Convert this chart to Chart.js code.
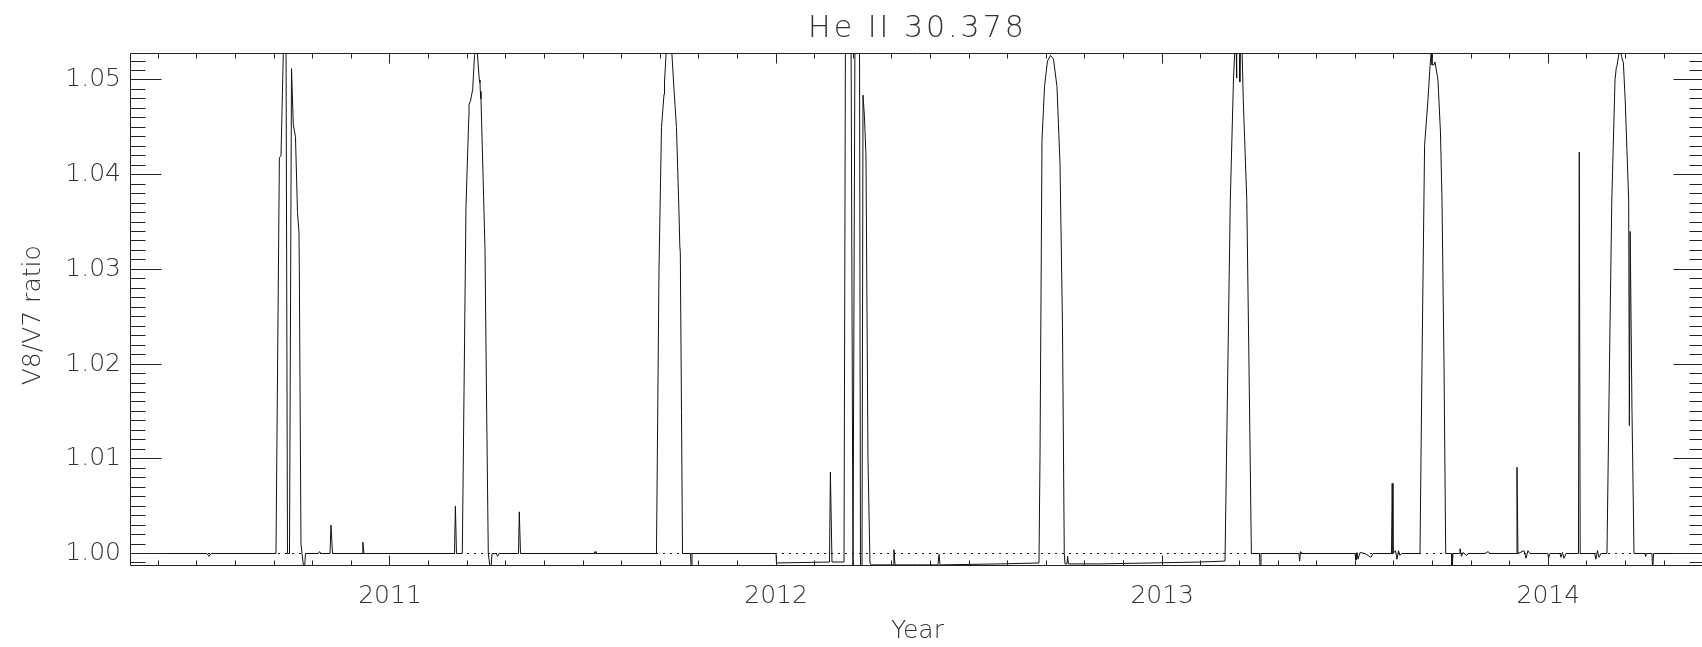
<!DOCTYPE html>
<html>
<head>
<meta charset="utf-8">
<script src="https://cdn.jsdelivr.net/npm/chart.js@4.4.1/dist/chart.umd.min.js"></script>
<style>
    html, body { margin: 0; padding: 0; overflow: hidden; background: #ffffff; }
    #wrap { width: 1706px; height: 647px; }
</style>
</head>
<body>
<div id="wrap"><canvas id="ratio-chart" width="1706" height="647"></canvas></div>
<script>
// V8/V7 ratio, He II 30.378 (decimal years)
const years = [
    2010.3292, 2010.5260, 2010.5312, 2010.5364, 2010.7047, 2010.7135, 2010.7177, 2010.7255,
    2010.7306, 2010.7345, 2010.7397, 2010.7449, 2010.7495, 2010.7552, 2010.7604, 2010.7643,
    2010.7651, 2010.7695, 2010.7721, 2010.7780, 2010.7811, 2010.8148, 2010.8177, 2010.8213,
    2010.8446, 2010.8472, 2010.8511, 2010.9275, 2010.9296, 2010.9327, 2011.1671, 2011.1694,
    2011.1722, 2011.1873, 2011.1968, 2011.2041, 2011.2046, 2011.2085, 2011.2142, 2011.2189,
    2011.2227, 2011.2261, 2011.2313, 2011.2331, 2011.2339, 2011.2357, 2011.2461, 2011.2505,
    2011.2546, 2011.2608, 2011.2642, 2011.2758, 2011.2784, 2011.2823, 2011.3328, 2011.3349,
    2011.3380, 2011.5284, 2011.5310, 2011.5335, 2011.6902, 2011.6967, 2011.7032, 2011.7097,
    2011.7110, 2011.7161, 2011.7226, 2011.7291, 2011.7356, 2011.7420, 2011.7485, 2011.7506,
    2011.7519, 2011.7550, 2011.7576, 2011.7783, 2011.7804, 2011.7822, 2011.9997, 2012.0010,
    2012.1383, 2012.1406, 2012.1448, 2012.1759, 2012.1797, 2012.1940, 2012.1992, 2012.2044,
    2012.2160, 2012.2186, 2012.2225, 2012.2251, 2012.2290, 2012.2328, 2012.2380, 2012.2432,
    2012.2458, 2012.3028, 2012.3051, 2012.3080, 2012.4193, 2012.4219, 2012.4245, 2012.5799,
    2012.6809, 2012.6835, 2012.6887, 2012.6952, 2012.7029, 2012.7107, 2012.7185, 2012.7275,
    2012.7353, 2012.7418, 2012.7464, 2012.7483, 2012.7534, 2012.7550, 2012.7573, 2012.8389,
    2012.9684, 2013.0979, 2013.1627, 2013.1665, 2013.1764, 2013.1847, 2013.1886, 2013.1919,
    2013.1924, 2013.1937, 2013.2002, 2013.2010, 2013.2028, 2013.2067, 2013.2100, 2013.2191,
    2013.2248, 2013.2310, 2013.2520, 2013.2538, 2013.2559, 2013.3543, 2013.3559, 2013.3582,
    2013.3621, 2013.4994, 2013.5019, 2013.5045, 2013.5071, 2013.5123, 2013.5253, 2013.5408,
    2013.5460, 2013.5939, 2013.5957, 2013.5978, 2013.6042, 2013.6081, 2013.6120, 2013.6159,
    2013.6198, 2013.6677, 2013.6729, 2013.6796, 2013.6884, 2013.6936, 2013.6977, 2013.6988,
    2013.7040, 2013.7066, 2013.7143, 2013.7208, 2013.7247, 2013.7299, 2013.7343, 2013.7493,
    2013.7506, 2013.7532, 2013.7700, 2013.7713, 2013.7752, 2013.7791, 2013.7889, 2013.7920,
    2013.8361, 2013.8438, 2013.8490, 2013.9171, 2013.9189, 2013.9215, 2013.9371, 2013.9422,
    2013.9474, 2013.9526, 2013.9992, 2014.0005, 2014.0044, 2014.0303, 2014.0329, 2014.0368,
    2014.0407, 2014.0458, 2014.0782, 2014.0803, 2014.0826, 2014.1197, 2014.1235, 2014.1274,
    2014.1313, 2014.1365, 2014.1520, 2014.1585, 2014.1645, 2014.1728, 2014.1764, 2014.1779,
    2014.1857, 2014.1896, 2014.1945, 2014.1992, 2014.2082, 2014.2100, 2014.2121, 2014.2168,
    2014.2220, 2014.2505, 2014.2520, 2014.2543, 2014.2686, 2014.2704, 2014.2725, 2014.4033
];
const ratios = [
    1.0000, 1.0000, 0.9997, 1.0000, 1.0000, 1.0418, 1.0420, 1.0560,
    1.0560, 1.0000, 1.0000, 1.0512, 1.0453, 1.0440, 1.0360, 1.0339,
    1.0302, 1.0010, 1.0000, 0.9980, 1.0000, 1.0000, 1.0002, 1.0000,
    1.0000, 1.0030, 1.0000, 1.0000, 1.0012, 1.0000, 1.0000, 1.0050,
    1.0000, 1.0000, 1.0366, 1.0461, 1.0474, 1.0478, 1.0490, 1.0526,
    1.0530, 1.0529, 1.0500, 1.0497, 1.0488, 1.0480, 1.0321, 1.0146,
    1.0000, 0.9980, 1.0000, 1.0000, 0.9997, 1.0000, 1.0000, 1.0044,
    1.0000, 1.0000, 1.0002, 1.0000, 1.0000, 1.0300, 1.0450, 1.0485,
    1.0498, 1.0535, 1.0560, 1.0535, 1.0490, 1.0450, 1.0360, 1.0325,
    1.0318, 1.0150, 1.0000, 1.0000, 0.9980, 1.0000, 1.0000, 0.9990,
    0.9991, 1.0086, 0.9991, 0.9991, 1.0560, 1.0560, 0.9980, 1.0560,
    1.0560, 0.9980, 0.9985, 1.0484, 1.0460, 1.0420, 1.0100, 0.9990,
    0.9988, 0.9988, 1.0004, 0.9988, 0.9988, 0.9999, 0.9988, 0.9989,
    0.9990, 1.0100, 1.0436, 1.0493, 1.0520, 1.0526, 1.0522, 1.0493,
    1.0412, 1.0240, 1.0000, 0.9989, 0.9989, 0.9997, 0.9989, 0.9989,
    0.9990, 0.9991, 0.9992, 1.0100, 1.0373, 1.0502, 1.0535, 1.0528,
    1.0502, 1.0550, 1.0540, 1.0498, 1.0550, 1.0535, 1.0479, 1.0373,
    1.0200, 1.0000, 1.0000, 0.9980, 1.0000, 1.0000, 0.9992, 1.0002,
    1.0000, 1.0000, 0.9993, 1.0001, 0.9994, 1.0001, 1.0000, 0.9996,
    1.0000, 1.0000, 1.0074, 1.0000, 1.0003, 0.9994, 1.0003, 0.9998,
    1.0000, 1.0000, 1.0200, 1.0431, 1.0479, 1.0514, 1.0535, 1.0516,
    1.0516, 1.0519, 1.0500, 1.0444, 1.0373, 1.0200, 1.0000, 1.0000,
    0.9980, 1.0000, 1.0000, 1.0005, 0.9997, 1.0001, 0.9998, 1.0000,
    1.0000, 1.0002, 1.0000, 1.0000, 1.0091, 1.0000, 1.0003, 0.9995,
    1.0003, 1.0000, 1.0000, 0.9995, 1.0000, 1.0000, 0.9996, 1.0001,
    0.9995, 1.0000, 1.0000, 1.0424, 1.0000, 1.0000, 0.9994, 1.0003,
    0.9996, 1.0000, 1.0000, 1.0200, 1.0373, 1.0500, 1.0514, 1.0515,
    1.0535, 1.0525, 1.0518, 1.0479, 1.0373, 1.0135, 1.0340, 1.0150,
    1.0000, 1.0000, 0.9997, 1.0000, 1.0000, 0.9980, 1.0000, 1.0000
];

// dotted reference level
const refYears = [2010.3292, 2014.4033];
const refLevel = 1.0;

const yearTicks = [2011, 2012, 2013, 2014];
const ratioTicks = [1.00, 1.01, 1.02, 1.03, 1.04, 1.05];

const xMin = 2010.3292;
const xMax = 2014.4033;
const yMin = 0.998786;
const yMax = 1.05285;

const titleText = 'He II 30.378';
const fontFamily = "'DejaVu Sans', sans-serif";
const textColor = '#333333';
const lineColor = '#111111';

// IDL style frame: box with inward ticks on all four sides, title above it
const frameTicks = {
    id: 'frameTicks',
    afterDraw(chart) {
        const {ctx, chartArea, scales} = chart;
        const {left, right, top, bottom} = chartArea;
        const x = scales.x;
        const y = scales.y;
        ctx.save();
        ctx.strokeStyle = '#222222';
        ctx.lineWidth = 1;
        ctx.beginPath();
        ctx.rect(left - 0.5, top + 0.5, right - left + 1, bottom - top);

        for (let k = Math.ceil(yMin * 1000); k <= Math.floor(yMax * 1000); k++) {
            const py = Math.floor(y.getPixelForValue(k / 1000)) + 0.5;
            const len = k % 10 === 0 ? 31 : 15;
            ctx.moveTo(left - 0.5, py);
            ctx.lineTo(left - 0.5 + len, py);
            ctx.moveTo(right + 0.5, py);
            ctx.lineTo(right + 0.5 - len, py);
        }

        for (let k = Math.ceil(xMin * 10); k <= Math.floor(xMax * 10); k++) {
            const px = Math.floor(x.getPixelForValue(k / 10)) + 0.5;
            const len = k % 10 === 0 ? 10 : 5;
            ctx.moveTo(px, bottom + 0.5);
            ctx.lineTo(px, bottom + 0.5 - len);
            ctx.moveTo(px, top + 0.5);
            ctx.lineTo(px, top + 0.5 + len);
        }
        ctx.stroke();

        // title, spaced out like the vector font of the original
        ctx.font = '200 30px ' + fontFamily;
        ctx.fillStyle = textColor;
        ctx.textAlign = 'center';
        ctx.textBaseline = 'alphabetic';
        ctx.letterSpacing = '3px';
        ctx.fillText(titleText, (left + right) / 2, 37);
        ctx.restore();
    }
};

new Chart(document.getElementById('ratio-chart'), {
    type: 'line',
    data: {
        datasets: [{
            data: years.map((t, i) => ({x: t, y: ratios[i]})),
            borderColor: lineColor,
            borderWidth: 1,
            pointRadius: 0,
            tension: 0
        }, {
            data: refYears.map(t => ({x: t, y: refLevel})),
            borderColor: lineColor,
            borderWidth: 1,
            borderDash: [2, 5],
            pointRadius: 0
        }]
    },
    options: {
        responsive: false,
        animation: false,
        layout: {padding: {left: 0, right: 2, top: 53, bottom: 0}},
        plugins: {
            legend: {display: false},
            tooltip: {enabled: false},
            title: {display: false}
        },
        scales: {
            x: {
                type: 'linear',
                min: xMin,
                max: xMax,
                grid: {display: false, drawTicks: false},
                border: {display: false},
                afterBuildTicks: scale => {
                    scale.ticks = yearTicks.map(v => ({value: v}));
                },
                afterFit: scale => {
                    scale.height = 82;
                },
                ticks: {
                    padding: 16,
                    color: textColor,
                    font: {family: fontFamily, size: 25, weight: 200},
                    maxRotation: 0,
                    callback: v => String(v)
                },
                title: {
                    display: true,
                    text: 'Year',
                    color: textColor,
                    font: {family: fontFamily, size: 25, weight: 200},
                    padding: {top: 0, bottom: 1}
                }
            },
            y: {
                type: 'linear',
                min: yMin,
                max: yMax,
                grid: {display: false, drawTicks: false},
                border: {display: false},
                afterBuildTicks: scale => {
                    scale.ticks = ratioTicks.map(v => ({value: v}));
                },
                afterFit: scale => {
                    scale.width = 131;
                },
                ticks: {
                    padding: 10,
                    color: textColor,
                    font: {family: fontFamily, size: 25, weight: 200},
                    callback: v => v.toFixed(2)
                },
                title: {
                    display: true,
                    // trailing en space nudges the rotated label down to where the original sits
                    text: 'V8/V7 ratio\u2002',
                    color: textColor,
                    font: {family: fontFamily, size: 25, weight: 200},
                    padding: {top: 18, bottom: 0}
                }
            }
        }
    },
    plugins: [frameTicks]
});
</script>
</body>
</html>
